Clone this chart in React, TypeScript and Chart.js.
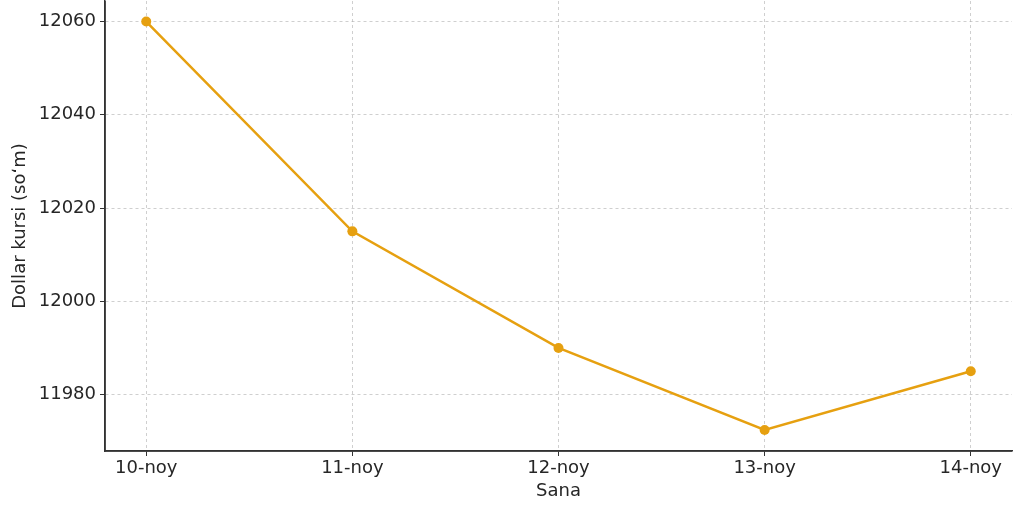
import React, { useEffect, useRef } from "react";
import { Chart, registerables } from "chart.js";

Chart.register(...registerables);

const categories = ["10-noy", "11-noy", "12-noy", "13-noy", "14-noy"];
const rates = [12060, 12015, 11990, 11972.4, 11985];
const yTicks = [11980, 12000, 12020, 12040, 12060];
const xTitle = "Sana";
const yTitle = "Dollar kursi (soʻm)";

const FONT = "'DejaVu Sans', sans-serif";
const TEXT = "#262626";
const FS = 18;

export default function App() {
  const ref = useRef<HTMLCanvasElement | null>(null);
  useEffect(() => {
    const canvas = ref.current!;
    const chart = new Chart(canvas, {
      type: "line",
      data: {
        datasets: [
          {
            data: rates.map((v, i) => ({ x: i, y: v })),
            borderColor: "#E6A010",
            backgroundColor: "#E6A010",
            borderWidth: 2.5,
            pointRadius: 5,
            pointHoverRadius: 5,
            pointBorderWidth: 0,
            tension: 0,
            clip: false,
          },
        ],
      },
      options: {
        animation: false,
        responsive: false,
        maintainAspectRatio: false,
        layout: { autoPadding: false, padding: { left: 0, right: 12, top: 1, bottom: 0 } },
        plugins: { legend: { display: false }, tooltip: { enabled: false } },
        scales: {
          x: {
            type: "linear",
            min: -0.2,
            max: 4.2,
            afterBuildTicks: (s: any) => {
              s.ticks = categories.map((_, i) => ({ value: i }));
            },
            ticks: {
              callback: (v: any) => categories[v as number] ?? "",
              font: { family: FONT, size: FS },
              color: TEXT,
              padding: 2,
              maxRotation: 0,
            },
            grid: {
              color: "rgba(175,175,175,0.6)",
              lineWidth: 1,
              drawTicks: true,
              tickColor: "#333",
              tickLength: 5,
              tickBorderDash: [],
            } as any,
            border: { display: true, color: "#333", width: 1.5, dash: [3, 3] } as any,
            title: {
              display: true,
              text: xTitle,
              font: { family: FONT, size: FS },
              color: TEXT,
              padding: { top: 0, bottom: 12 },
            },
            afterFit: (s: any) => {
              s.height = 63;
              s.paddingLeft = 0;
              s.paddingRight = 0;
            },
          },
          y: {
            type: "linear",
            min: 11967.9,
            max: 12064.4,
            afterBuildTicks: (s: any) => {
              s.ticks = yTicks.map((v) => ({ value: v }));
            },
            ticks: {
              font: { family: FONT, size: FS },
              color: TEXT,
              padding: 4,
              callback: (v: any) => String(v),
            },
            grid: {
              color: "rgba(175,175,175,0.6)",
              lineWidth: 1,
              tickColor: "#333",
              tickLength: 5,
            } as any,
            border: { display: true, color: "#333", width: 1.5, dash: [3, 3] } as any,
            title: {
              display: true,
              text: yTitle,
              font: { family: FONT, size: FS },
              color: TEXT,
              padding: { top: 10, bottom: 4 },
            },
            afterFit: (s: any) => {
              s.width = 105;
              s.paddingTop = 0;
              s.paddingBottom = 0;
            },
          },
        },
      },
      plugins: [
        {
          id: "solidSpines",
          afterDraw: (c: any) => {
            const { ctx, chartArea } = c;
            ctx.save();
            ctx.strokeStyle = "#333";
            ctx.lineWidth = 1.5;
            ctx.beginPath();
            ctx.moveTo(chartArea.left, chartArea.top);
            ctx.lineTo(chartArea.left, chartArea.bottom);
            ctx.lineTo(chartArea.right, chartArea.bottom);
            ctx.stroke();
            ctx.restore();
          },
        },
      ],
    } as any);
    return () => chart.destroy();
  }, []);
  return (
    <div style={{ position: "fixed", left: 0, top: 0, width: 1024, height: 514, background: "#fff" }}>
      <canvas ref={ref} width={1024} height={514} style={{ display: "block" }} />
    </div>
  );
}
